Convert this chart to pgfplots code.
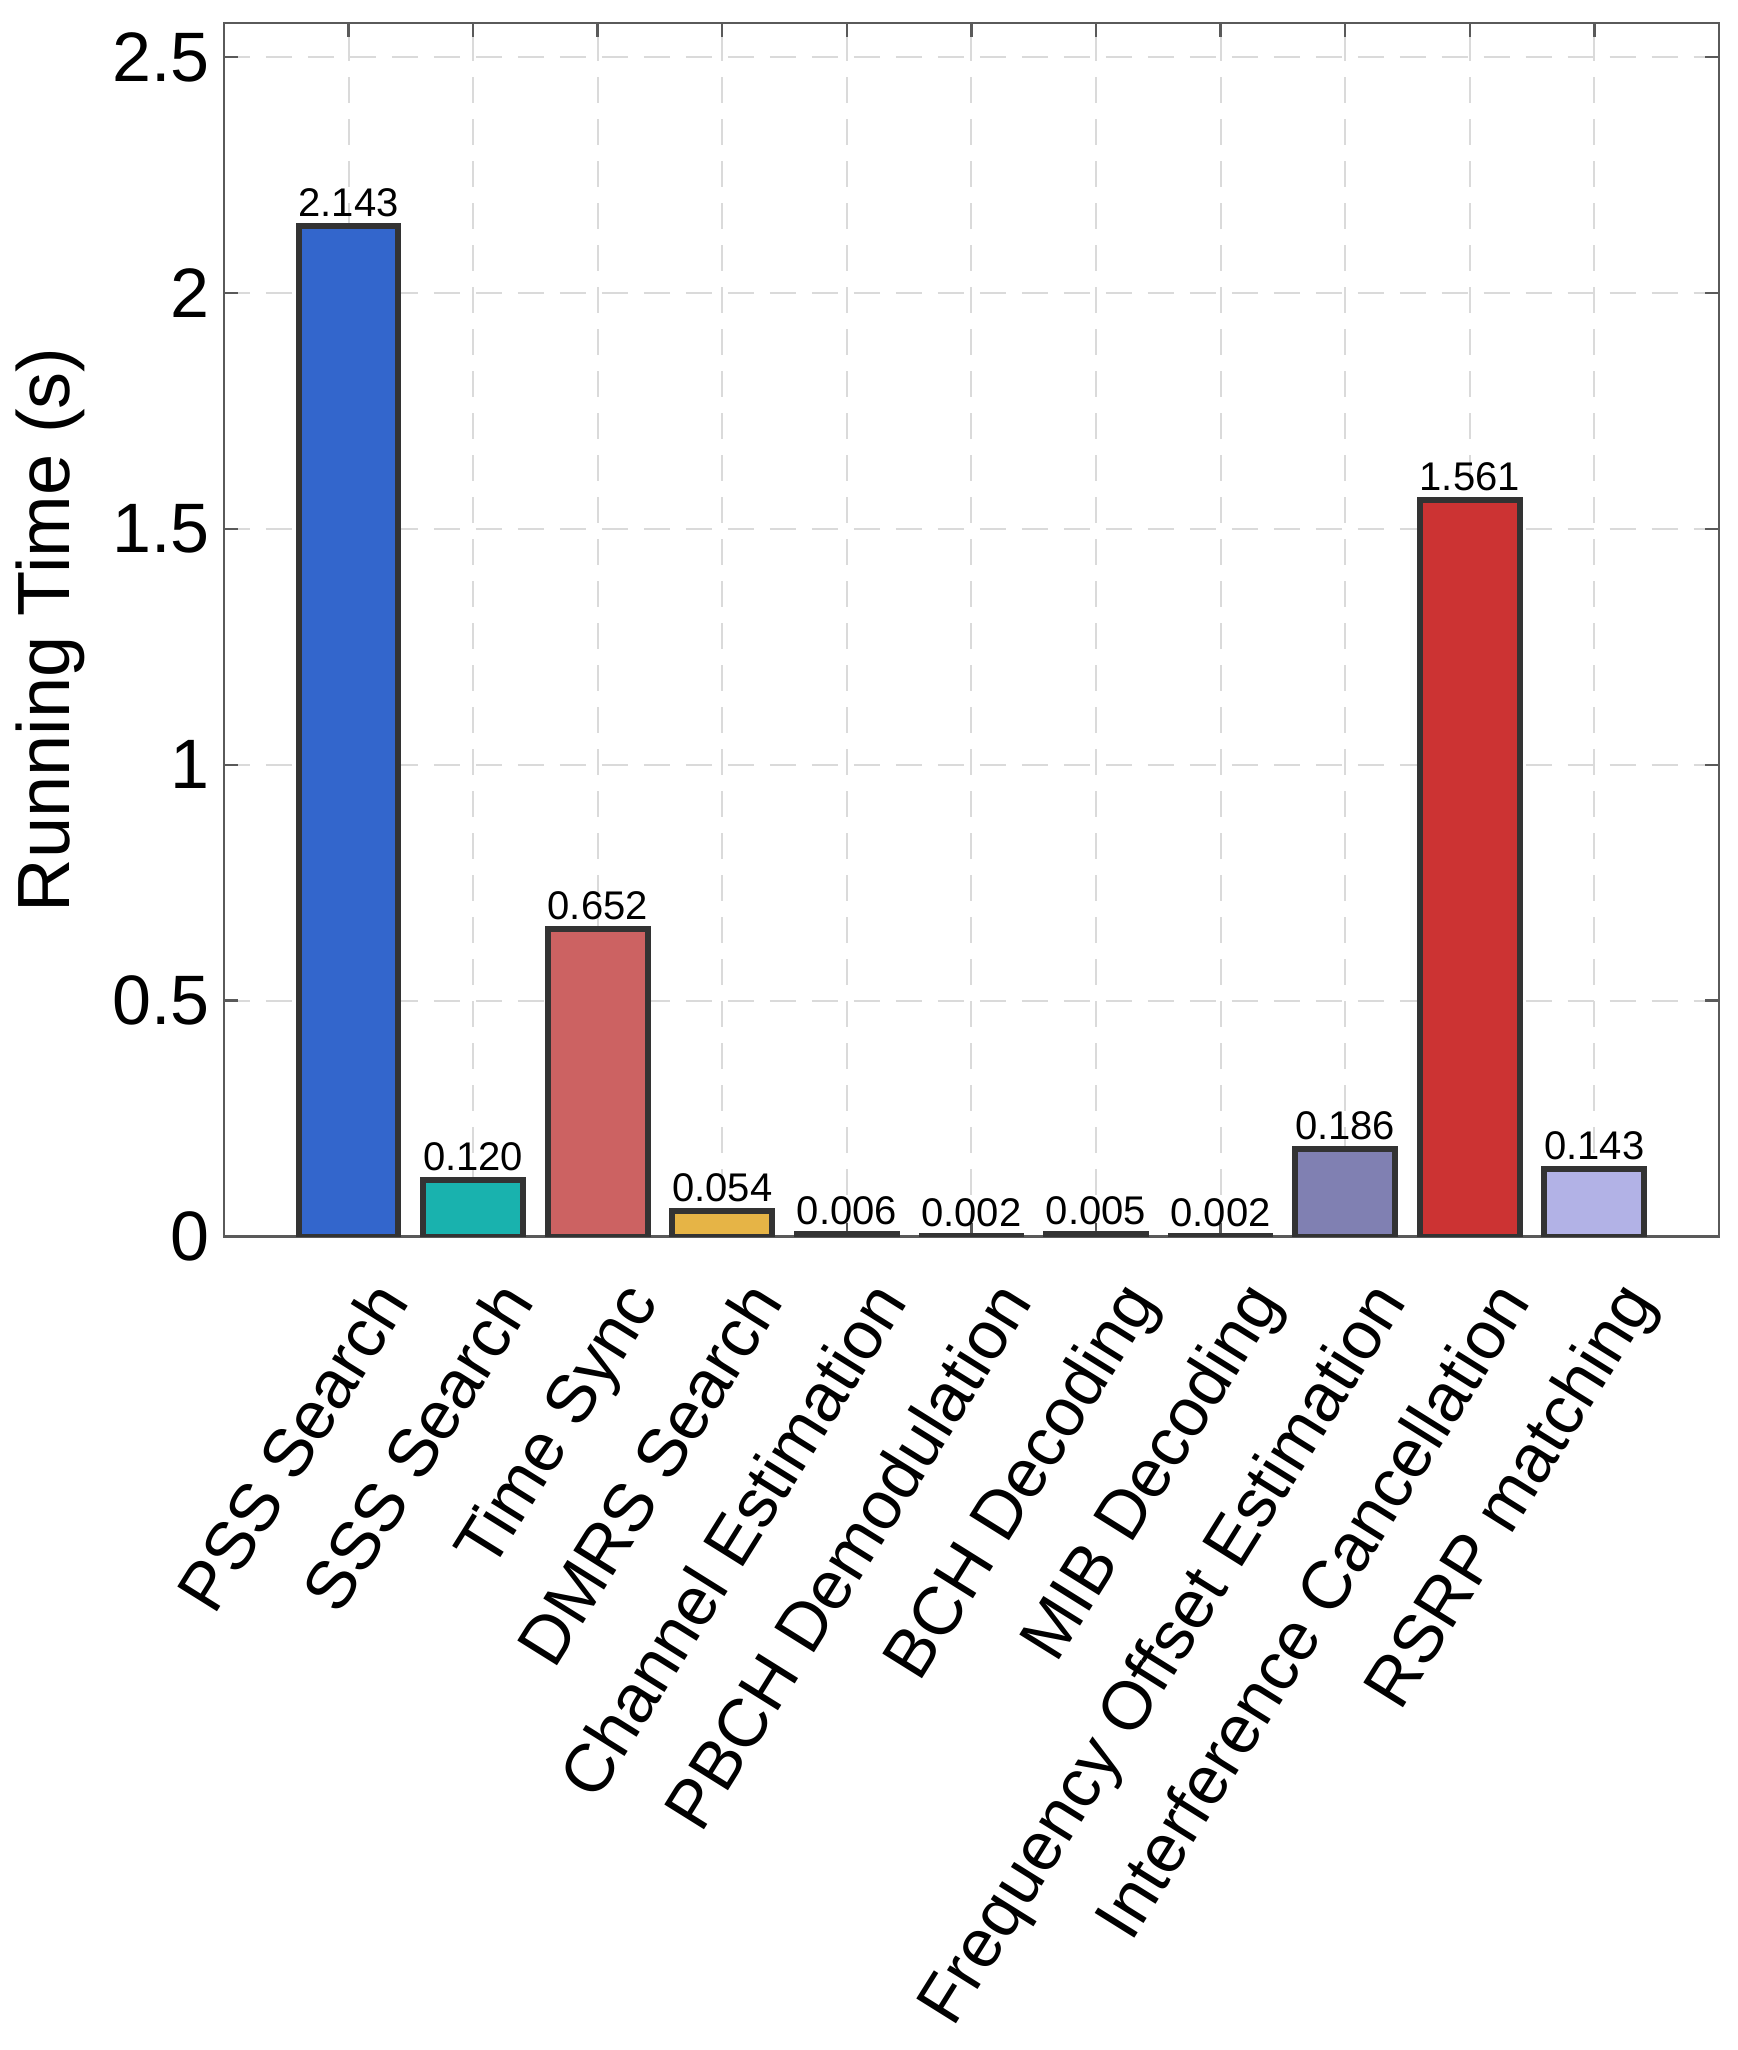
\documentclass[border=0pt]{standalone}
\usepackage{pgfplots}
\pgfplotsset{compat=1.18}
\usepackage{fontspec}
\setmainfont{Liberation Sans}

\definecolor{cPSS}{RGB}{51,102,204}
\definecolor{cSSS}{RGB}{25,178,174}
\definecolor{cTime}{RGB}{204,98,98}
\definecolor{cDMRS}{RGB}{230,180,70}
\definecolor{cChan}{RGB}{90,160,90}
\definecolor{cPBCH}{RGB}{150,100,180}
\definecolor{cBCH}{RGB}{220,130,60}
\definecolor{cMIB}{RGB}{100,150,200}
\definecolor{cFreq}{RGB}{128,128,178}
\definecolor{cIntf}{RGB}{204,51,51}
\definecolor{cRSRP}{RGB}{178,178,230}
\definecolor{edge}{RGB}{51,51,51}
\definecolor{axisgray}{RGB}{90,90,90}
\definecolor{gridgray}{RGB}{218,218,218}

\pgfplotsset{
  onebar/.style={fill=#1, draw=edge, line width=1.5pt, bar shift=0pt},
}

\begin{document}
\begin{tikzpicture}
\begin{axis}[
    ybar,
    bar width=0.8,
    scale only axis,
    width=373.8pt,
    height=303.4pt,
    xmin=0, xmax=12,
    ymin=0, ymax=2.572,
    xtick={1,2,3,4,5,6,7,8,9,10,11},
    xticklabels={PSS Search, SSS Search, Time Sync, DMRS Search,
        Channel Estimation, PBCH Demodulation, BCH Decoding, MIB Decoding,
        Frequency Offset Estimation, Interference Cancellation, RSRP matching},
    ytick={0,0.5,1,1.5,2,2.5},
    tick pos=both,
    tick align=inside,
    major tick length=3.5pt,
    tick style={axisgray, line width=0.6pt},
    axis line style={axisgray, line width=0.6pt},
    grid=major,
    major grid style={gridgray, dash pattern=on 6.5pt off 4pt, line width=0.5pt},
    xticklabel style={xshift=4pt, yshift=-5pt, rotate=58, anchor=north east,
        font=\fontsize{17}{20}\selectfont},
    yticklabel style={font=\fontsize{17.5}{20}\selectfont},
    ylabel={Running Time (s)},
    ylabel style={font=\fontsize{18.5}{21}\selectfont},
    /pgf/number format/assume math mode=true,
    nodes near coords,
    every node near coord/.append style={font=\fontsize{10}{12}\selectfont,
        inner sep=1.5pt, black,
        /pgf/number format/fixed,
        /pgf/number format/fixed zerofill,
        /pgf/number format/precision=3,
        /pgf/number format/assume math mode=true},
]

\addplot[onebar=cPSS] coordinates {(1,2.143)};
\addplot[onebar=cSSS] coordinates {(2,0.120)};
\addplot[onebar=cTime] coordinates {(3,0.652)};
\addplot[onebar=cDMRS] coordinates {(4,0.054)};
\addplot[onebar=cChan] coordinates {(5,0.006)};
\addplot[onebar=cPBCH] coordinates {(6,0.002)};
\addplot[onebar=cBCH] coordinates {(7,0.005)};
\addplot[onebar=cMIB] coordinates {(8,0.002)};
\addplot[onebar=cFreq] coordinates {(9,0.186)};
\addplot[onebar=cIntf] coordinates {(10,1.561)};
\addplot[onebar=cRSRP] coordinates {(11,0.143)};

\end{axis}
\pgfresetboundingbox
\path[use as bounding box] ([xshift=-56pt,yshift=-203.4pt]current axis.south west)
    rectangle ([xshift=4.7pt,yshift=5.8pt]current axis.north east);
\end{tikzpicture}
\end{document}
